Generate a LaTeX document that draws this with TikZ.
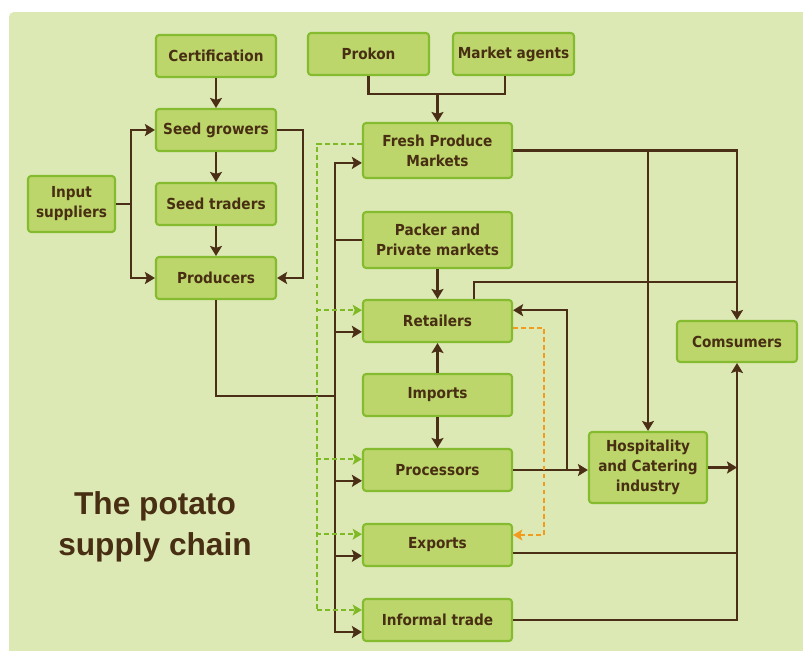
\documentclass[tikz,border=0pt]{standalone}
\usepackage{fontspec}
\setmainfont{DejaVu Sans Condensed}
\newfontfamily\titlefont{Liberation Sans}
\usetikzlibrary{arrows.meta}

\definecolor{chainPaper}{RGB}{221,233,181}
\definecolor{chainBox}{RGB}{188,214,108}
\definecolor{chainBorder}{RGB}{133,188,47}
\definecolor{chainLine}{RGB}{74,46,21}
\definecolor{chainText}{RGB}{72,46,18}
\definecolor{chainDash}{RGB}{126,185,38}
\definecolor{chainOrange}{RGB}{241,156,30}

\begin{document}
\begin{tikzpicture}[x=.025cm,y=-.025cm,
    stage/.style={draw=chainBorder, fill=chainBox, line width=1.5pt,
      rounded corners=.08cm, font=\fontsize{10.8}{14.2}\selectfont\bfseries,
      text=chainText, align=center, inner sep=0pt,
      minimum width=3cm, minimum height=1.05cm},
    wide/.style={stage, minimum width=3.725cm},
    link/.style={draw=chainLine, line width=1.6pt},
    flow/.style={link, -{Stealth[length=2.5mm,width=3mm,inset=.5mm]}},
    dashlink/.style={draw=chainDash, line width=1.4pt,
      dash pattern=on 3.5pt off 2.2pt},
    dashflow/.style={dashlink, -{Stealth[length=2.3mm,width=2.7mm,inset=.5mm]}},
    orangeflow/.style={dashlink, draw=chainOrange,
      -{Stealth[length=2.3mm,width=2.7mm,inset=.5mm]}}]
  \useasboundingbox (0,0) rectangle (803,651);
  \fill[white] (0,0) rectangle (803,651);
  \fill[chainPaper, rounded corners=.12cm] (9,12) rectangle (812,660);

  % seed side
  \node[stage] (cert) at (216,56) {Certification};
  \node[stage] (growers) at (216,130) {Seed growers};
  \node[stage] (traders) at (216,204) {Seed traders};
  \node[stage] (producers) at (216,278) {Producers};
  \node[stage, minimum width=2.175cm, minimum height=1.4cm] (inputs)
    at (71.5,204) {Input\\suppliers};

  % market column
  \node[stage, minimum width=3.025cm] (prokon) at (368.5,54) {Prokon};
  \node[stage, minimum width=3.025cm] (agents) at (513.5,54) {Market agents};
  \node[wide, minimum height=1.375cm] (fresh) at (437.5,150.5)
    {Fresh Produce\\Markets};
  \node[wide, minimum height=1.4cm] (packer) at (437.5,240)
    {Packer and\\Private markets};
  \node[wide] (retail) at (437.5,321) {Retailers};
  \node[wide] (imports) at (437.5,395) {Imports};
  \node[wide] (processors) at (437.5,470) {Processors};
  \node[wide] (exports) at (437.5,545) {Exports};
  \node[wide] (informal) at (437.5,620) {Informal trade};

  \node[stage, minimum height=1.025cm] (consumers) at (737,341.5) {Comsumers};
  \node[stage, minimum width=2.95cm, minimum height=1.775cm] (hospitality)
    at (648,467.5) {Hospitality\\and Catering\\industry};

  \node[font=\titlefont\bfseries\fontsize{22.5}{29}\selectfont,
    text=chainText, align=center] (title) at (155,526.5)
    {The potato\\supply chain};

  % seed flows
  \draw[flow] (cert) -- (growers);
  \draw[flow] (growers) -- (traders);
  \draw[flow] (traders) -- (producers);
  \coordinate (inputsplit) at ([xshift=.375cm]inputs.east);
  \draw[link] (inputs.east) -- (inputsplit);
  \draw[flow] (inputsplit) |- (growers.west);
  \draw[flow] (inputsplit) |- (producers.west);
  \draw[flow] (growers.east) -- ++(26,0) |- (producers.east);

  % producers feed the channel bus
  \coordinate (busjoin) at (335,396);
  \draw[link] (producers.south) |- (busjoin);
  \draw[flow] (busjoin) |- ([yshift=-.31cm]fresh.west);
  \draw[flow] (busjoin) |- ([yshift=-.3cm]informal.west);
  \foreach \n in {retail,processors,exports}
    \draw[flow] ([xshift=-.7cm,yshift=-.27cm]\n.west) -- ([yshift=-.27cm]\n.west);
  \draw[link] (packer.west) -- ++(-28,0);

  % fresh produce markets pass on
  \coordinate (dashend) at (317,610);
  \draw[dashlink] ([yshift=.16cm]fresh.west) -| (dashend);
  \draw[dashflow] (dashend) -- ([yshift=.25cm]informal.west);
  \foreach \n in {retail,processors,exports}
    \draw[dashflow] ([xshift=-1.15cm,yshift=.27cm]\n.west) -- ([yshift=.27cm]\n.west);

  % agents into the markets
  \coordinate (topjoin) at (437.5,93);
  \draw[link] (prokon.south) -- ++(0,18) -| ([xshift=-.21cm]agents.south);
  \draw[flow] (topjoin) -- (fresh.north);
  \draw[flow] (packer) -- (retail);
  \draw[flow] (imports) -- (retail);
  \draw[flow] (imports) -- (processors);

  % towards consumers
  \draw[flow] (fresh.east) -| (consumers.north);
  \draw[flow] (fresh.east -| hospitality.north) -- (hospitality.north);
  \coordinate (retjoin) at (737,282);
  \draw[link] ([xshift=.92cm]retail.north) |- (retjoin);
  \draw[flow] (processors.east) -- (processors.east -| hospitality.west);
  \coordinate (procsplit) at ([xshift=1.35cm]processors.east);
  \draw[flow] (procsplit) |- ([yshift=.27cm]retail.east);
  \draw[orangeflow] ([yshift=-.18cm]retail.east) -- ++(31,0)
    |- ([yshift=.25cm]exports.east);
  \draw[flow] (hospitality.east) -- (hospitality.east -| consumers.south);
  \draw[link] ([yshift=-.2cm]exports.east) -- ++(225,0);
  \draw[flow] (informal.east) -| (consumers.south);
\end{tikzpicture}
\end{document}
